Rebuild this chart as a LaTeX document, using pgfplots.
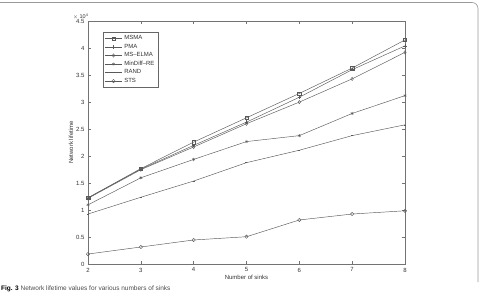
\documentclass[border=0pt]{standalone}
\usepackage{pgfplots}
\pgfplotsset{compat=1.18}
\usepackage{fontspec}
\setmainfont{Liberation Sans}
\begin{document}
\begin{tikzpicture}[x=1pt,y=1pt]
\path[use as bounding box] (0pt,0pt) rectangle (480pt,293pt);
% frame
\draw[black!40,line width=0.6pt] (-5pt,290.5pt) -- (472pt,290.5pt) arc (90:0:6pt) -- (478pt,11pt);
\begin{axis}[
  at={(88pt,28.7pt)}, anchor=south west,
  scale only axis, width=317pt, height=243.3pt,
  xmin=2, xmax=8, ymin=0, ymax=45000,
  xtick={2,3,4,5,6,7,8},
  ytick={0,5000,10000,15000,20000,25000,30000,35000,40000,45000},
  scaled y ticks=base 10:-4,
  ytick scale label code/.code={\fontsize{5.5}{6}\selectfont$\times\,$10\textsuperscript{4}},
  every y tick scale label/.style={at={(yticklabel cs:1)}, anchor=south west, inner sep=0pt, xshift=0pt, yshift=1.5pt},
  /pgf/number format/assume math mode=true,
  tick label style={font=\fontsize{6}{7}\selectfont, text=black!80},
  label style={font=\fontsize{6}{7}\selectfont, text=black!80},
  xlabel={Number of sinks},
  ylabel={Network lifetime},
  xlabel style={yshift=4pt},
  ylabel style={yshift=-4pt},
  tick align=inside, major tick length=3pt,
  axis line style={black!55, line width=0.6pt},
  every tick/.style={black!55, line width=0.4pt},
  legend style={at={(15pt,232.3pt)}, anchor=north west, font=\fontsize{6}{9.3}\selectfont, draw=black!60, line width=0.5pt, inner sep=1.5pt, row sep=-1.2pt, cells={anchor=west}, text=black!80},
  legend cell align=left,
  mystyle/.style={color=black!65, line width=0.45pt, mark size=1.7pt, mark options={solid, line width=0.4pt}},
]
\addplot[mystyle, mark=square] coordinates {(2,12300)(3,17700)(4,22600)(5,27100)(6,31600)(7,36300)(8,41500)};
\addlegendentry{MSMA}
\addplot[mystyle, mark=+] coordinates {(2,12300)(3,17600)(4,22000)(5,26300)(6,30900)(7,36000)(8,40400)};
\addlegendentry{PMA}
\addplot[mystyle, mark=diamond] coordinates {(2,12200)(3,17500)(4,21700)(5,26000)(6,30000)(7,34300)(8,39200)};
\addlegendentry{MS--ELMA}
\addplot[mystyle, mark=asterisk, mark size=1.6pt] coordinates {(2,11000)(3,16000)(4,19400)(5,22700)(6,23800)(7,27900)(8,31200)};
\addlegendentry{MinDiff--RE}
\addplot[mystyle, mark=-, mark size=1pt] coordinates {(2,9300)(3,12400)(4,15400)(5,18800)(6,21100)(7,23800)(8,25800)};
\addlegendentry{RAND}
\addplot[mystyle, mark=o] coordinates {(2,1900)(3,3200)(4,4500)(5,5100)(6,8200)(7,9300)(8,9900)};
\addlegendentry{STS}
\end{axis}
\node[anchor=base west, inner sep=0pt, font=\fontsize{6.5}{7}\selectfont] at (1pt,3pt) {\textbf{Fig. 3}\ \textcolor{black!70}{Network lifetime values for various numbers of sinks}};
\end{tikzpicture}
\end{document}
